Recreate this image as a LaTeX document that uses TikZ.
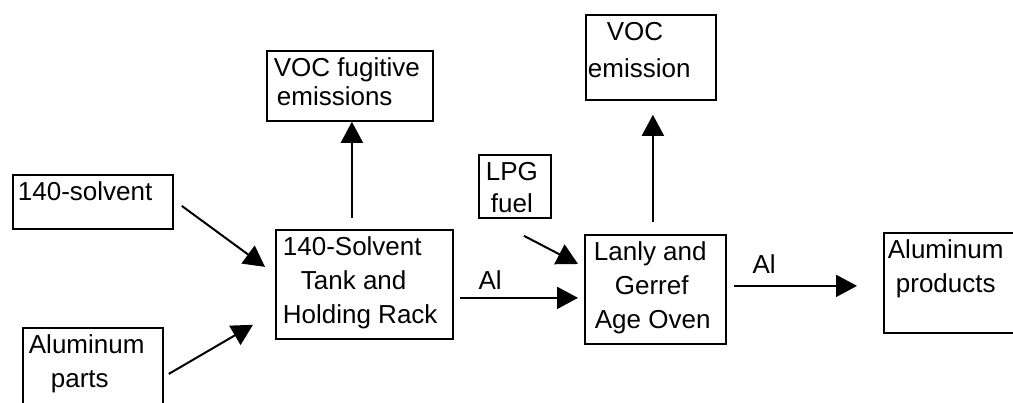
\documentclass[tikz,border=0pt]{standalone}
\usepackage{fontspec}
\setmainfont{Liberation Sans}
\usepackage{tikz}
\usetikzlibrary{positioning,arrows.meta}
\newcommand{\boxtext}[3]{\parbox[c][#2pt][t]{#1pt}{\raggedright\rule{0pt}{26pt}#3}}

\begin{document}
\begin{tikzpicture}[
  x=1pt, y=-1pt,
  box/.style={rectangle, draw=black, line width=1.8pt, inner sep=0pt, anchor=north west, font=\fontsize{26}{34}\selectfont},
  arr/.style={-{Triangle[length=21pt,width=22pt]}, line width=2pt},
  elab/.style={font=\fontsize{26}{34}\selectfont, inner sep=0pt, anchor=base west}
]
\useasboundingbox (0,0) rectangle (1013,403);
\node[box] (solv) at (12,174) {\boxtext{160}{54}{\hspace*{5pt}140-solvent}};
\node[box] (parts) at (22,327) {\boxtext{140}{100}{\hspace*{6pt}Aluminum\\\hspace*{28pt}parts}};
\node[box] (tank) at (275,229) {\boxtext{177}{109}{\hspace*{7pt}140-Solvent\\\hspace*{25pt}Tank and\\\hspace*{7pt}Holding Rack}};
\node[box] (fug) at (266,50) {\boxtext{166}{70}{\hspace*{7pt}VOC fugitive\\[-5pt]\hspace*{10pt}emissions}};
\node[box] (lpg) at (478,154) {\boxtext{72}{63}{\hspace*{7pt}LPG\\[-2pt]\hspace*{12pt}fuel}};
\node[box] (oven) at (584,234) {\boxtext{141}{109}{\hspace*{9pt}Lanly and\\\hspace*{30pt}Gerref\\\hspace*{10pt}Age Oven}};
\node[box] (vocem) at (585,14) {\boxtext{130}{85}{\hspace*{21pt}VOC\\[3pt]\hspace*{2pt}emission}};
\node[box] (prod) at (883,232) {\boxtext{140}{100}{\hspace*{4pt}Aluminum\\\hspace*{12pt}products}};
\draw[arr] ([shift={(8,4)}]solv.east) -- ([shift={(-10,-17.5)}]tank.west);
\draw[arr] ([shift={(5,-4)}]parts.east) -- ([shift={(-22,-15)}]tank.south west);
\draw[arr] ([shift={(-12.5,-11)}]tank.north) -- ([xshift=2pt]fug.south);
\draw[arr] ([shift={(6,13.5)}]tank.east) -- node[elab, pos=0.15, yshift=8pt] (al1) {Al} ([shift={(-6,8.5)}]oven.west);
\draw[arr] ([shift={(9,17)}]lpg.south) -- ([shift={(-6,30)}]oven.north west);
\draw[arr] ([shift={(-2.5,-12)}]oven.north) -- ([shift={(2,14)}]vocem.south);
\draw[arr] ([shift={(7,-3.5)}]oven.east) -- node[elab, pos=0.144, yshift=12pt] (al2) {Al} ([shift={(-26,3)}]prod.west);
\end{tikzpicture}
\end{document}
